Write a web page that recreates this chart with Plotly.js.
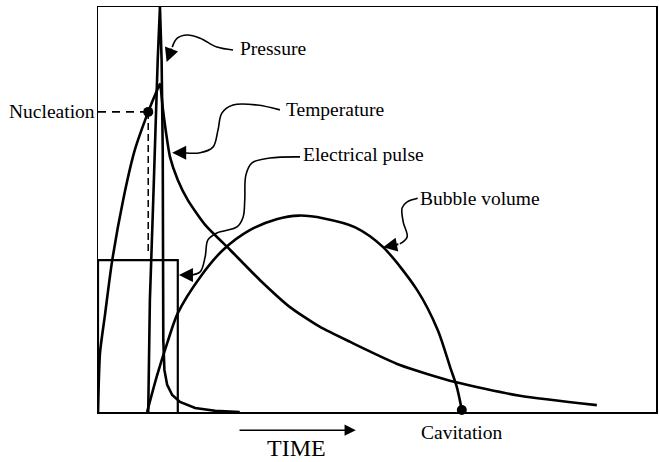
<!DOCTYPE html>
<html>
<head>
<meta charset="utf-8">
<script src="https://cdn.plot.ly/plotly-3.0.1.min.js"></script>
<style>html,body{margin:0;padding:0;background:#fff;}</style>
</head>
<body>
<div id="chart" style="width:659px;height:462px;"></div>
<script>
// Time axis 0..100 (arbitrary units), level 0..100 (arbitrary units)
const tempT = [0, 0.36, 1.25, 2.5, 4.5, 6.6, 9.0, 10.6, 11.1, 11.6, 12.2, 12.9, 14.3, 16.1, 19.2, 23.7, 29.0, 34.4, 39.8, 45.2, 54.1, 64.0, 75.6, 89.4];
const tempV = [0, 14.6, 24.0, 37.0, 52.3, 64.7, 74.1, 79.5, 81.0, 75.1, 68.9, 63.0, 57.3, 52.3, 46.2, 40.0, 32.6, 25.9, 21.0, 17.3, 11.6, 7.4, 4.0, 1.7];

const presT = [9.0, 9.3, 9.9, 10.2, 10.7, 11.1, 11.4, 11.6, 11.7, 11.7, 11.9, 12.4, 13.3, 14.7, 17.4, 21.0, 25.4];
const presV = [0, 27.7, 52.3, 67.0, 86.9, 100, 86.9, 64.7, 40.0, 17.8, 10.4, 6.7, 4.2, 2.5, 1.0, 0.3, 0];

const bubT = [8.8, 10.6, 12.4, 14.3, 18.3, 22.4, 27.2, 32.0, 36.0, 40.5, 46.1, 51.1, 57.2, 60.9, 63.1, 64.3, 65.2];
const bubV = [0, 9.1, 17.0, 24.4, 33.3, 40.0, 44.9, 47.6, 48.5, 47.8, 45.6, 40.7, 30.1, 20.2, 11.1, 6.2, 0.5];

const pulseT = [0, 0, 14.3, 14.3];
const pulseV = [0, 37.5, 37.5, 0];

const nucleation = {t: 9.0, v: 74.1, dashEnd: 38.8};
const cavitation = {t: 65.2, v: 0.5};

// callout leader curves
const callPresT = [24.2, 21.3, 18.3, 16.0, 14.2, 13.3];
const callPresV = [89.4, 90.1, 92.3, 93.1, 92.3, 90.1];
const callTempT = [32.6, 28.5, 24.2, 22.2, 21.5, 20.6, 18.3, 15.4];
const callTempV = [74.6, 75.8, 75.8, 73.8, 69.6, 65.4, 64.0, 64.0];
const callPulseT = [36.2, 30.8, 27.6, 26.5, 26.3, 26.0, 24.9, 21.3, 19.7, 19.2, 18.3, 16.5];
const callPulseV = [63.0, 62.7, 61.5, 58.5, 52.3, 48.1, 45.7, 44.2, 42.5, 38.3, 34.6, 33.8];
const callBubT = [57.3, 55.4, 54.5, 54.7, 55.4, 54.1];
const callBubV = [52.8, 51.9, 50.4, 46.9, 43.2, 41.5];

const labels = ["Pressure", "Temperature", "Electrical pulse", "Bubble volume", "Nucleation", "Cavitation", "TIME"];

const blk = '#000';
const font = {family: 'Liberation Serif, Times New Roman, serif', size: 19.5, color: blk};

const traces = [
  {x: pulseT, y: pulseV, mode: 'lines', line: {color: blk, width: 2.2}},
  {x: tempT, y: tempV, mode: 'lines', line: {color: blk, width: 2.6, shape: 'spline', smoothing: 0.6}},
  {x: presT, y: presV, mode: 'lines', line: {color: blk, width: 2.6}},
  {x: bubT, y: bubV, mode: 'lines', line: {color: blk, width: 2.6, shape: 'spline', smoothing: 0.8}},
  {x: [0, nucleation.t], y: [nucleation.v, nucleation.v], mode: 'lines', line: {color: blk, width: 1.8, dash: '8px,6px'}},
  {x: [nucleation.t, nucleation.t], y: [nucleation.v, nucleation.dashEnd], mode: 'lines', line: {color: blk, width: 1.5, dash: '7px,4px'}},
  {x: [nucleation.t, cavitation.t], y: [nucleation.v, cavitation.v], mode: 'markers', marker: {color: blk, size: 10}, cliponaxis: false},
  {x: callPresT, y: callPresV, mode: 'lines', line: {color: blk, width: 1.6, shape: 'spline'}},
  {x: callTempT, y: callTempV, mode: 'lines', line: {color: blk, width: 1.6, shape: 'spline'}},
  {x: callPulseT, y: callPulseV, mode: 'lines', line: {color: blk, width: 1.6, shape: 'spline'}},
  {x: callBubT, y: callBubV, mode: 'lines', line: {color: blk, width: 1.6, shape: 'spline'}}
];

function arrowTip(fromT, fromV, toT, toV) {
  return {x: toT, y: toV, ax: fromT, ay: fromV, axref: 'x', ayref: 'y', xref: 'x', yref: 'y',
    text: '', showarrow: true, arrowhead: 2, arrowsize: 1.4, arrowwidth: 2, arrowcolor: blk};
}

const annotations = [
  arrowTip(13.3, 90.1, 12.3, 86.4),
  arrowTip(15.4, 64.0, 13.3, 64.0),
  arrowTip(16.5, 33.8, 14.5, 33.8),
  arrowTip(54.1, 41.5, 51.1, 40.7),
  {x: 25.0, y: 89.8, xref: 'x', yref: 'y', text: labels[0], showarrow: false, xanchor: 'left', yanchor: 'middle', font: font},
  {x: 33.4, y: 74.8, xref: 'x', yref: 'y', text: labels[1], showarrow: false, xanchor: 'left', yanchor: 'middle', font: font},
  {x: 36.4, y: 63.5, xref: 'x', yref: 'y', text: labels[2], showarrow: false, xanchor: 'left', yanchor: 'middle', font: font},
  {x: 57.4, y: 52.8, xref: 'x', yref: 'y', text: labels[3], showarrow: false, xanchor: 'left', yanchor: 'middle', font: font},
  {x: -0.002, y: nucleation.v, xref: 'paper', yref: 'y', text: labels[4], showarrow: false, xanchor: 'right', yanchor: 'middle', font: font},
  {x: cavitation.t, y: -0.05, xref: 'x', yref: 'paper', text: labels[5], showarrow: false, xanchor: 'center', yanchor: 'middle', font: font},
  {x: 35.5, y: -0.088, xref: 'x', yref: 'paper', text: labels[6], showarrow: false, xanchor: 'center', yanchor: 'middle', font: {family: font.family, size: 24, color: blk}},
  {x: 46.2, y: -0.045, ax: 25.1, ay: -0.045, xref: 'x', yref: 'paper', axref: 'x', ayref: 'paper', text: '', showarrow: true, arrowhead: 2, arrowsize: 1.5, arrowwidth: 1.5, arrowcolor: blk}
];

const layout = {
  width: 659, height: 462,
  margin: {l: 98, r: 3, t: 7, b: 50},
  paper_bgcolor: '#fff', plot_bgcolor: '#fff',
  showlegend: false,
  xaxis: {range: [0, 100], showgrid: false, zeroline: false, showticklabels: false, ticks: '',
          showline: true, mirror: true, linecolor: blk, linewidth: 1.5, fixedrange: true},
  yaxis: {range: [0, 100], showgrid: false, zeroline: false, showticklabels: false, ticks: '',
          showline: true, mirror: true, linecolor: blk, linewidth: 1.5, fixedrange: true},
  annotations: annotations
};

Plotly.newPlot('chart', traces, layout, {displayModeBar: false, staticPlot: true});
</script>
</body>
</html>
